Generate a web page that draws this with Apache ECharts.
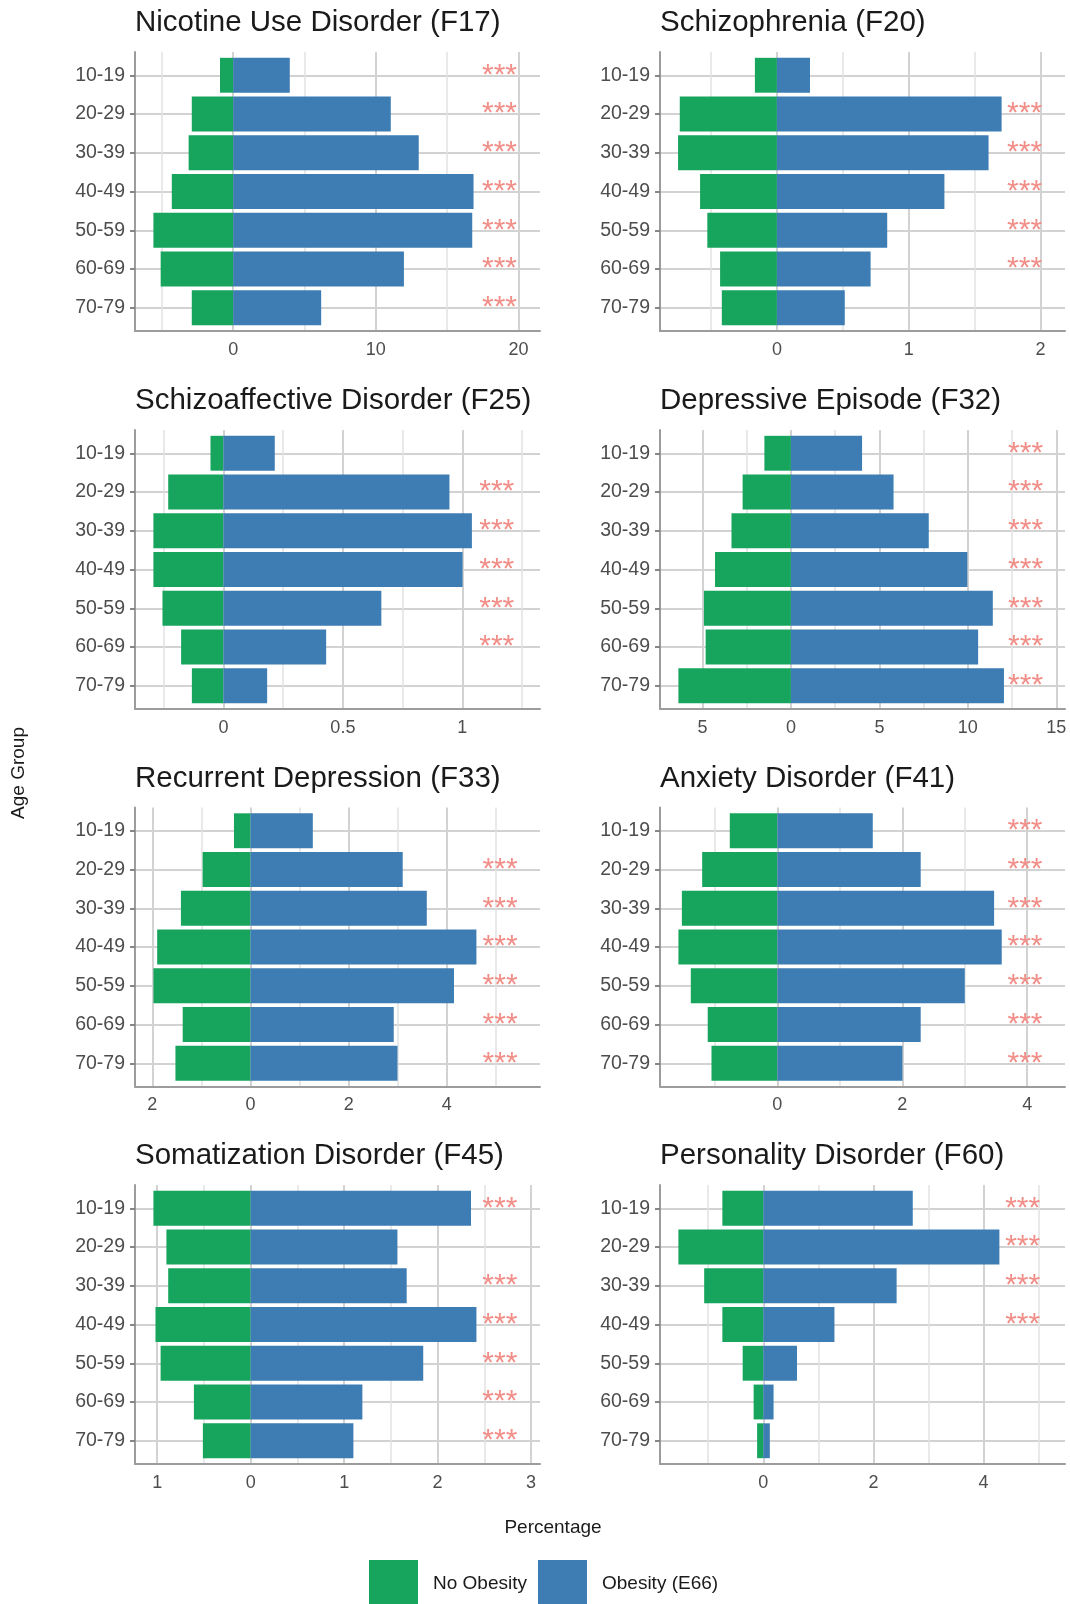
<!DOCTYPE html>
<html>
<head>
<meta charset="utf-8">
<script src="https://cdn.jsdelivr.net/npm/echarts@6/dist/echarts.min.js"></script>
<style>
html,body{margin:0;padding:0;background:#ffffff;}
#chart{width:1070px;height:1604px;}
</style>
</head>
<body>
<div id="chart"></div>
<script>
// ---------------- data ----------------
const ageGroups = ['10-19', '20-29', '30-39', '40-49', '50-59', '60-69', '70-79'];
const seriesNames = ['No Obesity', 'Obesity (E66)'];

const titleF17 = 'Nicotine Use Disorder (F17)';
const noObesityF17 = [0.92, 2.90, 3.12, 4.30, 5.59, 5.08, 2.90];
const obesityF17 = [3.97, 11.05, 13.01, 16.85, 16.76, 11.97, 6.17];
const starsF17 = ['10-19', '20-29', '30-39', '40-49', '50-59', '60-69', '70-79'];
const starXF17 = 18.67;
const limitsF17 = [-6.88, 21.51];
const ticksF17 = [0, 10, 20];
const minorTicksF17 = [-5, 5, 15];

const titleF20 = 'Schizophrenia (F20)';
const noObesityF20 = [0.167, 0.737, 0.750, 0.583, 0.528, 0.431, 0.418];
const obesityF20 = [0.251, 1.705, 1.606, 1.271, 0.837, 0.711, 0.515];
const starsF20 = ['20-29', '30-39', '40-49', '50-59', '60-69'];
const starXF20 = 1.879;
const limitsF20 = [-0.887, 2.186];
const ticksF20 = [0, 1, 2];
const minorTicksF20 = [-0.5, 0.5, 1.5];

const titleF25 = 'Schizoaffective Disorder (F25)';
const noObesityF25 = [0.054, 0.231, 0.293, 0.293, 0.255, 0.177, 0.132];
const obesityF25 = [0.215, 0.946, 1.040, 1.001, 0.661, 0.430, 0.183];
const starsF25 = ['20-29', '30-39', '40-49', '50-59', '60-69'];
const starXF25 = 1.144;
const limitsF25 = [-0.370, 1.325];
const ticksF25 = [0, 0.5, 1];
const minorTicksF25 = [-0.25, 0.25, 0.75, 1.25];

const titleF32 = 'Depressive Episode (F32)';
const noObesityF32 = [1.50, 2.73, 3.36, 4.29, 4.92, 4.82, 6.36];
const obesityF32 = [4.02, 5.80, 7.79, 9.97, 11.41, 10.58, 12.04];
const starsF32 = ['10-19', '20-29', '30-39', '40-49', '50-59', '60-69', '70-79'];
const starXF32 = 13.26;
const limitsF32 = [-7.40, 15.49];
const ticksF32 = [-5, 0, 5, 10, 15];
const minorTicksF32 = [-2.5, 2.5, 7.5, 12.5];

const titleF33 = 'Recurrent Depression (F33)';
const noObesityF33 = [0.337, 0.975, 1.418, 1.902, 1.979, 1.382, 1.530];
const obesityF33 = [1.270, 3.102, 3.593, 4.604, 4.147, 2.919, 2.996];
const starsF33 = ['20-29', '30-39', '40-49', '50-59', '60-69', '70-79'];
const starXF33 = 5.086;
const limitsF33 = [-2.354, 5.90];
const ticksF33 = [-2, 0, 2, 4];
const minorTicksF33 = [-1, 1, 3, 5];

const titleF41 = 'Anxiety Disorder (F41)';
const noObesityF41 = [0.761, 1.203, 1.528, 1.583, 1.385, 1.114, 1.054];
const obesityF41 = [1.528, 2.295, 3.470, 3.592, 3.001, 2.295, 2.003];
const starsF41 = ['10-19', '20-29', '30-39', '40-49', '50-59', '60-69', '70-79'];
const starXF41 = 3.965;
const limitsF41 = [-1.878, 4.605];
const ticksF41 = [0, 2, 4];
const minorTicksF41 = [-1, 1, 3];

const titleF45 = 'Somatization Disorder (F45)';
const noObesityF45 = [1.040, 0.901, 0.882, 1.018, 0.963, 0.607, 0.511];
const obesityF45 = [2.357, 1.570, 1.669, 2.415, 1.846, 1.195, 1.099];
const starsF45 = ['10-19', '30-39', '40-49', '50-59', '60-69', '70-79'];
const starXF45 = 2.665;
const limitsF45 = [-1.237, 3.095];
const ticksF45 = [-1, 0, 1, 2, 3];
const minorTicksF45 = [-0.5, 0.5, 1.5, 2.5];

const titleF60 = 'Personality Disorder (F60)';
const noObesityF60 = [0.743, 1.541, 1.073, 0.743, 0.374, 0.175, 0.112];
const obesityF60 = [2.714, 4.287, 2.421, 1.292, 0.612, 0.187, 0.119];
const starsF60 = ['10-19', '20-29', '30-39', '40-49'];
const starXF60 = 4.709;
const limitsF60 = [-1.875, 5.478];
const ticksF60 = [0, 2, 4];
const minorTicksF60 = [-1, 1, 3, 5];

// ---------------- build ----------------
const panels = [
  {title: titleF17, no: noObesityF17, ob: obesityF17, stars: starsF17, starX: starXF17, lim: limitsF17, major: ticksF17, minor: minorTicksF17},
  {title: titleF20, no: noObesityF20, ob: obesityF20, stars: starsF20, starX: starXF20, lim: limitsF20, major: ticksF20, minor: minorTicksF20},
  {title: titleF25, no: noObesityF25, ob: obesityF25, stars: starsF25, starX: starXF25, lim: limitsF25, major: ticksF25, minor: minorTicksF25},
  {title: titleF32, no: noObesityF32, ob: obesityF32, stars: starsF32, starX: starXF32, lim: limitsF32, major: ticksF32, minor: minorTicksF32},
  {title: titleF33, no: noObesityF33, ob: obesityF33, stars: starsF33, starX: starXF33, lim: limitsF33, major: ticksF33, minor: minorTicksF33},
  {title: titleF41, no: noObesityF41, ob: obesityF41, stars: starsF41, starX: starXF41, lim: limitsF41, major: ticksF41, minor: minorTicksF41},
  {title: titleF45, no: noObesityF45, ob: obesityF45, stars: starsF45, starX: starXF45, lim: limitsF45, major: ticksF45, minor: minorTicksF45},
  {title: titleF60, no: noObesityF60, ob: obesityF60, stars: starsF60, starX: starXF60, lim: limitsF60, major: ticksF60, minor: minorTicksF60}
];

const FONT = '"Liberation Sans", Arial, Helvetica, sans-serif';
const GREEN = '#17A55D';
const BLUE = '#3D7DB3';
const STAR = '#F28E88';
const AXIS = '#9c9c9c';
const GRID_MAJOR = '#d2d2d2';
const GRID_MINOR = '#e2e2e2';
const colLeft = [135, 660];
const colWidth = 405;
const rowTop = [52, 430, 807.5, 1185];
const rowHeight = 279;
const catIdx = ageGroups.map((g, k) => k);

function barRenderer(color) {
  return function (params, api) {
    const v = api.value(0), k = api.value(1);
    const a = api.coord([0, k]);
    const b = api.coord([v, k]);
    const h = Math.abs(api.size([0, 0.9])[1]);
    return {
      type: 'rect',
      shape: {x: Math.min(a[0], b[0]), y: a[1] - h / 2, width: Math.abs(b[0] - a[0]), height: h},
      style: {fill: color}
    };
  };
}

function starRenderer(params, api) {
  const c = api.coord([api.value(0), api.value(1)]);
  return {
    type: 'text', x: c[0], y: c[1],
    style: {text: '***', fill: STAR, fontSize: 30, fontFamily: FONT, align: 'center', verticalAlign: 'middle'}
  };
}

const option = {
  animation: false,
  backgroundColor: '#ffffff',
  title: [], grid: [], xAxis: [], yAxis: [], series: [],
  legend: {
    left: 369, top: 1560, orient: 'horizontal', padding: 0,
    itemWidth: 49, itemHeight: 48, itemGap: 11, icon: 'rect', selectedMode: false,
    data: [
      {name: seriesNames[0], itemStyle: {color: GREEN}},
      {name: seriesNames[1], itemStyle: {color: BLUE}}
    ],
    textStyle: {fontSize: 19, color: '#1a1a1a', fontFamily: FONT, padding: [0, 0, 0, 10]}
  },
  graphic: [
    {type: 'text', x: 19, y: 773, rotation: Math.PI / 2,
     style: {text: 'Age Group', fontSize: 19, fontFamily: FONT, fill: '#1a1a1a', align: 'center', verticalAlign: 'middle'}},
    {type: 'text', x: 553, y: 1528,
     style: {text: 'Percentage', fontSize: 19, fontFamily: FONT, fill: '#1a1a1a', align: 'center', verticalAlign: 'middle'}}
  ]
};

panels.forEach((p, i) => {
  const col = i % 2, row = Math.floor(i / 2);
  const left = colLeft[col], top = rowTop[row];
  option.grid.push({left: left, top: top, width: colWidth, height: rowHeight, containLabel: false, outerBoundsMode: 'none'});
  option.title.push({
    text: p.title, left: left, top: top - 44, padding: 0,
    textStyle: {fontSize: 29.5, fontWeight: 'normal', color: '#1a1a1a', fontFamily: FONT}
  });
  // major x axis
  option.xAxis.push({
    type: 'value', gridIndex: i, min: p.lim[0], max: p.lim[1], position: 'bottom',
    axisLine: {show: true, onZero: false, lineStyle: {color: AXIS, width: 2}},
    axisTick: {show: false, customValues: p.major},
    axisLabel: {customValues: p.major, formatter: v => String(Math.abs(v)), margin: 10,
                fontSize: 18, color: '#4d4d4d', fontFamily: FONT},
    splitLine: {show: true, lineStyle: {color: GRID_MAJOR, width: 2}}
  });
  // minor grid x axis
  option.xAxis.push({
    type: 'value', gridIndex: i, min: p.lim[0], max: p.lim[1], position: 'top',
    axisLine: {show: false}, axisTick: {show: false, customValues: p.minor},
    axisLabel: {show: false, customValues: p.minor},
    splitLine: {show: true, lineStyle: {color: GRID_MINOR, width: 1.5}}
  });
  option.yAxis.push({
    type: 'value', gridIndex: i, min: -0.6, max: ageGroups.length - 0.4, inverse: true, position: 'left',
    axisLine: {show: true, onZero: false, lineStyle: {color: AXIS, width: 2}},
    axisTick: {show: true, length: 5, customValues: catIdx, lineStyle: {color: '#7a7a7a', width: 1.8}},
    axisLabel: {customValues: catIdx, formatter: v => ageGroups[Math.round(v)], margin: 10,
                fontSize: 19.5, color: '#4d4d4d', fontFamily: FONT},
    splitLine: {show: true, lineStyle: {color: GRID_MAJOR, width: 2}}
  });
  option.series.push({
    type: 'custom', name: seriesNames[0], coordinateSystem: 'cartesian2d',
    xAxisIndex: 2 * i, yAxisIndex: i, itemStyle: {color: GREEN},
    encode: {x: 0, y: 1},
    data: p.no.map((v, k) => [-v, k]),
    renderItem: barRenderer(GREEN)
  });
  option.series.push({
    type: 'custom', name: seriesNames[1], coordinateSystem: 'cartesian2d',
    xAxisIndex: 2 * i, yAxisIndex: i, itemStyle: {color: BLUE},
    encode: {x: 0, y: 1},
    data: p.ob.map((v, k) => [v, k]),
    renderItem: barRenderer(BLUE)
  });
  option.series.push({
    type: 'custom', name: 'significance', coordinateSystem: 'cartesian2d', silent: true,
    xAxisIndex: 2 * i, yAxisIndex: i, z: 5,
    encode: {x: 0, y: 1},
    data: p.stars.map(g => [p.starX, ageGroups.indexOf(g)]),
    renderItem: starRenderer
  });
});

const chart = echarts.init(document.getElementById('chart'), null, {renderer: 'canvas'});
chart.setOption(option);
</script>
</body>
</html>
